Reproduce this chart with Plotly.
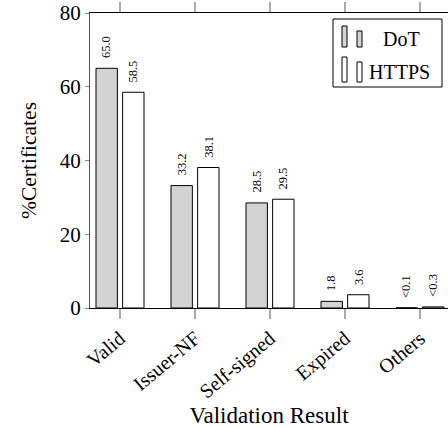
import plotly.graph_objects as go

categories = ["Valid", "Issuer-NF", "Self-signed", "Expired", "Others"]
dot_values = [65.0, 33.2, 28.5, 1.8, 0.05]
https_values = [58.5, 38.1, 29.5, 3.6, 0.3]
dot_labels = ["65.0", "33.2", "28.5", "1.8", "&lt;0.1"]
https_labels = ["58.5", "38.1", "29.5", "3.6", "&lt;0.3"]
y_ticks = [0, 20, 40, 60, 80]

W, H = 448, 429
ML, MR, MT, MB = 90, 0, 13, 121
SERIF = "Liberation Serif, Times New Roman, serif"

BAR_W = 0.285
DOT_OFF = -0.32
HTTPS_OFF = 0.035

fig = go.Figure()
fig.add_trace(go.Bar(
    x=categories, y=dot_values, name="DoT",
    width=BAR_W, offset=DOT_OFF,
    marker=dict(color="#d3d3d3", line=dict(color="black", width=1)),
))
fig.add_trace(go.Bar(
    x=categories, y=https_values, name="HTTPS",
    width=BAR_W, offset=HTTPS_OFF,
    marker=dict(color="white", line=dict(color="black", width=1)),
))

annotations = []
for i, (v, t) in enumerate(zip(dot_values, dot_labels)):
    annotations.append(dict(x=i + DOT_OFF + BAR_W / 2, y=v, xref="x", yref="y",
                            text=t, showarrow=False, textangle=-90,
                            xanchor="center", yanchor="bottom", yshift=8,
                            font=dict(family=SERIF, size=12.5, color="black")))
for i, (v, t) in enumerate(zip(https_values, https_labels)):
    annotations.append(dict(x=i + HTTPS_OFF + BAR_W / 2, y=v, xref="x", yref="y",
                            text=t, showarrow=False, textangle=-90,
                            xanchor="center", yanchor="bottom", yshift=8,
                            font=dict(family=SERIF, size=12.5, color="black")))

# custom legend (pixel -> paper conversion)
PW = W - ML - MR
PH = H - MT - MB
def px(x):
    return (x - ML) / PW
def py(y):
    return (H - MB - y) / PH

shapes = [
    dict(type="rect", xref="paper", yref="paper", x0=px(333), x1=px(442), y0=py(87), y1=py(19),
         line=dict(color="black", width=1), fillcolor="white", layer="above"),
    dict(type="rect", xref="paper", yref="paper", x0=px(342), x1=px(347), y0=py(47), y1=py(26),
         line=dict(color="black", width=1), fillcolor="#d3d3d3", layer="above"),
    dict(type="rect", xref="paper", yref="paper", x0=px(357), x1=px(362), y0=py(47), y1=py(31),
         line=dict(color="black", width=1), fillcolor="#d3d3d3", layer="above"),
    dict(type="rect", xref="paper", yref="paper", x0=px(342), x1=px(347), y0=py(82), y1=py(57),
         line=dict(color="black", width=1), fillcolor="white", layer="above"),
    dict(type="rect", xref="paper", yref="paper", x0=px(357), x1=px(362), y0=py(82), y1=py(62),
         line=dict(color="black", width=1), fillcolor="white", layer="above"),
]
annotations.append(dict(xref="paper", yref="paper", x=px(381), y=py(39), text="DoT",
                        showarrow=False, xanchor="left", yanchor="middle",
                        font=dict(family=SERIF, size=20, color="black")))
annotations.append(dict(xref="paper", yref="paper", x=px(367), y=py(72), text="HTTPS",
                        showarrow=False, xanchor="left", yanchor="middle",
                        font=dict(family=SERIF, size=20, color="black")))

fig.update_layout(
    width=W, height=H,
    margin=dict(l=ML, r=MR, t=MT, b=MB, pad=0, autoexpand=False),
    paper_bgcolor="white", plot_bgcolor="white",
    barmode="overlay", showlegend=False,
    font=dict(family=SERIF, color="black"),
    annotations=annotations, shapes=shapes,
)
fig.update_xaxes(
    type="category", categoryorder="array", categoryarray=categories,
    range=[-0.4, -0.4 + PW / 75.0], automargin=False,
    showline=True, linecolor="black", linewidth=1, mirror="ticks",
    ticks="outside", ticklen=10, tickwidth=1.5, tickcolor="#aaaaaa",
    tickangle=-40, tickfont=dict(family=SERIF, size=20, color="black"),
    showgrid=False, zeroline=False,
    title=dict(text="Validation Result", font=dict(family=SERIF, size=23, color="black"), standoff=0),
)
fig.update_yaxes(
    range=[0, 80], tickvals=y_ticks, automargin=False,
    showline=True, linecolor="#555555", linewidth=1,
    ticks="outside", ticklen=4, tickwidth=1, tickcolor="#888888",
    tickfont=dict(family=SERIF, size=21, color="black"),
    showgrid=False, zeroline=False,
    title=dict(text="%Certificates", font=dict(family=SERIF, size=21.5, color="black"), standoff=17),
)

# remove the browser's default 8px body margin so the figure sits at the window origin
fig.write_html("out.html", config={"displayModeBar": False},
               post_script="document.body.style.margin='0px';document.body.style.overflow='hidden';")
